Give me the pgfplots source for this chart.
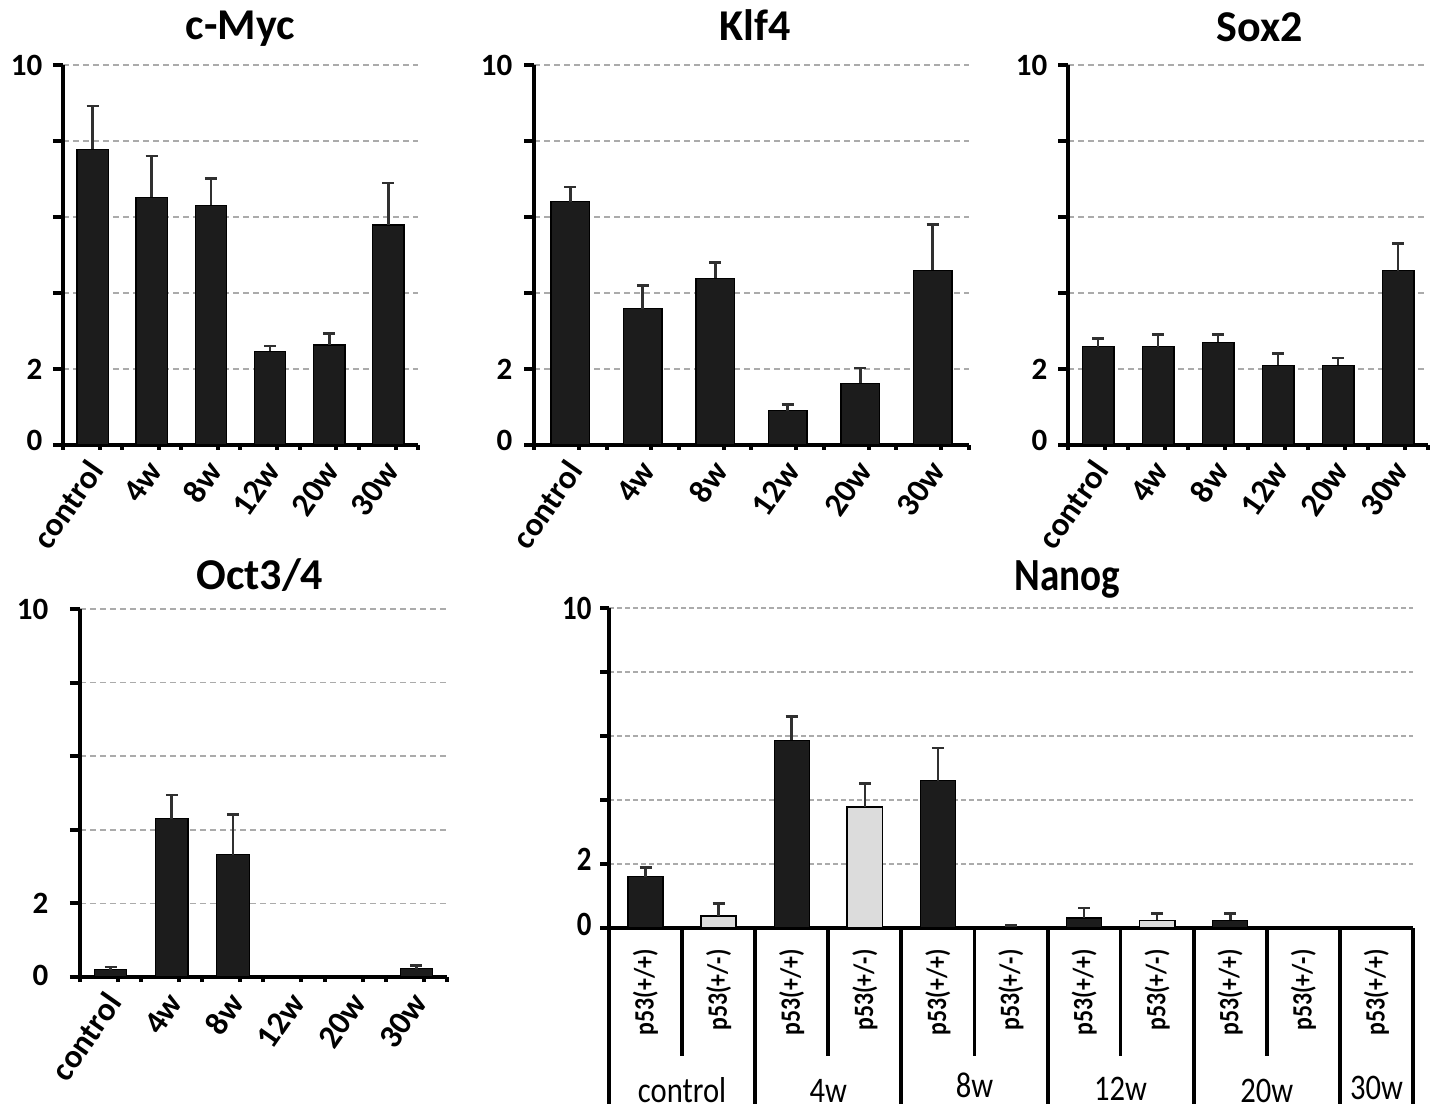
\documentclass[border=0pt]{standalone}
\usepackage{pgfplots}
\pgfplotsset{compat=1.18}
\usepackage{fontspec}
\setmainfont{Carlito}
\newfontfamily\cond[FakeStretch=0.85]{Carlito}
\definecolor{barblk}{HTML}{1C1C1C}
\definecolor{errcol}{HTML}{303030}
\definecolor{gridcol}{HTML}{ABABAB}
\definecolor{lightbar}{HTML}{DCDCDC}

\pgfplotsset{
  panel/.style={
    scale only axis, anchor=south west, clip=false,
    ymin=0, ymax=10, ytick={0,2,4,6,8,10},
    ymajorgrids,
    grid style={gridcol, line width=0.9pt, dash pattern=on 3pt off 2pt},
    axis x line*=bottom, axis y line*=left,
    axis line style={line width=2pt, black, -},
    tick align=outside,
    ytick style={/pgfplots/major tick length=5pt, line width=2pt, black},
    yticklabel style={font=\bfseries\fontsize{15.5}{17}\selectfont, anchor=east},
    title style={font=\bfseries\fontsize{22}{24}\selectfont, anchor=base},
    ybar, bar width=0.53,
    /pgfplots/error bars/error bar style={line width=1.3pt, errcol},
    /pgfplots/error bars/error mark options={rotate=90, errcol, mark size=3pt, line width=1.3pt},
  },
  six/.style={
    xmin=-0.5, xmax=5.5,
    xtick={-0.5,0.5,...,5.5}, xticklabels={},
    xtick style={/pgfplots/major tick length=2.5pt, line width=2pt, black},
    extra x ticks={0.12,1.12,2.12,3.12,4.12,5.12},
    extra x tick labels={control,4w,8w,12w,20w,30w},
    extra x tick style={grid=none, major tick length=0pt},
    xticklabel style={font=\bfseries\fontsize{16.5}{18}\selectfont, rotate=55, anchor=east},
    xticklabel shift=7pt,
    yticklabels={{\raisebox{4.5pt}{0}},2,{},{},{},{\raisebox{-4.5pt}{10}}},
  },
  blackbar/.style={fill=barblk, draw=black, line width=0.6pt, bar shift=0pt},
  greybar/.style={fill=lightbar, draw=black, line width=0.8pt, bar shift=0pt},
}

\begin{document}
\begin{tikzpicture}
\useasboundingbox (0,0) rectangle (720.5pt,557.5pt);

% c-Myc
\begin{axis}[panel, six, at={(31.5pt,335pt)}, width=177.5pt, height=190pt,
  yticklabel style={xshift=-2.5pt},
  title={c-Myc}, title style={at={(0.5,1)}, yshift=6.5pt}]
\addplot[blackbar, error bars/.cd, y dir=plus, y explicit] coordinates {
  (0,7.78) +- (0,1.14)
  (1,6.52) +- (0,1.09)
  (2,6.31) +- (0,0.71)
  (3,2.47) +- (0,0.14)
  (4,2.63) +- (0,0.30)
  (5,5.79) +- (0,1.10)
};
\end{axis}

% Klf4
\begin{axis}[panel, six, at={(267pt,335pt)}, width=217.5pt, height=190pt,
  yticklabel style={xshift=-3pt},
  title={Klf4}, title style={at={(0.508,1)}, yshift=6pt}]
\addplot[blackbar, error bars/.cd, y dir=plus, y explicit] coordinates {
  (0,6.40) +- (0,0.39)
  (1,3.59) +- (0,0.61)
  (2,4.39) +- (0,0.42)
  (3,0.90) +- (0,0.16)
  (4,1.62) +- (0,0.41)
  (5,4.60) +- (0,1.20)
};
\end{axis}

% Sox2
\begin{axis}[panel, six, at={(534pt,335pt)}, width=180pt, height=190pt,
  yticklabel style={xshift=-2.5pt},
  title={Sox2}, title style={at={(0.533,1)}, yshift=5.5pt}]
\addplot[blackbar, error bars/.cd, y dir=plus, y explicit] coordinates {
  (0,2.59) +- (0,0.21)
  (1,2.59) +- (0,0.32)
  (2,2.70) +- (0,0.21)
  (3,2.10) +- (0,0.30)
  (4,2.10) +- (0,0.19)
  (5,4.59) +- (0,0.72)
};
\end{axis}

% Oct3/4
\begin{axis}[panel, six, at={(40pt,69pt)}, width=183.5pt, height=184pt,
  yticklabels={{\raisebox{2pt}{0}},{\raisebox{-1pt}{2}},{},{},{},{\raisebox{-1pt}{10}}},
  yticklabel style={xshift=-8pt},
  title={Oct3/4}, title style={at={(0.49,1)}, yshift=3.5pt}]
\addplot[blackbar, error bars/.cd, y dir=plus, y explicit] coordinates {
  (0,0.20) +- (0,0.07)
  (1,4.30) +- (0,0.65)
  (2,3.32) +- (0,1.10)
  (5,0.23) +- (0,0.08)
};
\end{axis}

% Nanog
\begin{axis}[panel, at={(304.5pt,93.5pt)}, width=402pt, height=160pt,
  xmin=0, xmax=11, xtick=\empty, bar width=0.48,
  ytick style={/pgfplots/major tick length=4.5pt, line width=2pt, black},
  yticklabel style={font=\cond\bfseries\fontsize{17}{18}\selectfont, xshift=-1pt},
  yticklabels={{\raisebox{4pt}{0}},{\raisebox{5pt}{2}},{},{},{},{\raisebox{-2.5pt}{10}}},
  grid style={gridcol, line width=1.2pt, dash pattern=on 2.5pt off 1.5pt},
  title={Nanog}, title style={font=\cond\bfseries\fontsize{23}{25}\selectfont, at={(0.57,1)}, yshift=3pt}]
\addplot[blackbar, error bars/.cd, y dir=plus, y explicit] coordinates {
  (0.5,1.60) +- (0,0.29)
  (2.5,5.86) +- (0,0.75)
  (4.5,4.60) +- (0,1.02)
  (6.5,0.31) +- (0,0.32)
  (8.5,0.24) +- (0,0.21)
};
\addplot[greybar, error bars/.cd, y dir=plus, y explicit] coordinates {
  (1.5,0.38) +- (0,0.38)
  (3.5,3.79) +- (0,0.73)
  (5.5,0.05) +- (0,0.03)
  (7.5,0.24) +- (0,0.21)
};
% separators of the label table
\draw[line width=2pt] (axis cs:0,0) -- (axis cs:0,-5.5);
\draw[line width=2pt] (axis cs:2,0) -- (axis cs:2,-5.5);
\draw[line width=2pt] (axis cs:4,0) -- (axis cs:4,-5.5);
\draw[line width=2pt] (axis cs:6,0) -- (axis cs:6,-5.5);
\draw[line width=2pt] (axis cs:8,0) -- (axis cs:8,-5.5);
\draw[line width=2pt] (axis cs:10,0) -- (axis cs:10,-5.5);
\draw[line width=2pt] (axis cs:11,0) -- (axis cs:11,-5.5);
\draw[line width=1.8pt] (axis cs:1,0) -- (axis cs:1,-4.0);
\draw[line width=1.8pt] (axis cs:3,0) -- (axis cs:3,-4.0);
\draw[line width=1.8pt] (axis cs:5,0) -- (axis cs:5,-4.0);
\draw[line width=1.8pt] (axis cs:7,0) -- (axis cs:7,-4.0);
\draw[line width=1.8pt] (axis cs:9,0) -- (axis cs:9,-4.0);
% cell labels
\tikzset{p53/.style={rotate=90, anchor=east, inner sep=0pt, font=\cond\bfseries\fontsize{14}{15}\selectfont}}
\node[p53] at (axis cs:0.5,-0.66) {p53(+/+)};
\node[p53] at (axis cs:1.5,-0.66) {p53(+/-)};
\node[p53] at (axis cs:2.5,-0.66) {p53(+/+)};
\node[p53] at (axis cs:3.5,-0.66) {p53(+/-)};
\node[p53] at (axis cs:4.5,-0.66) {p53(+/+)};
\node[p53] at (axis cs:5.5,-0.66) {p53(+/-)};
\node[p53] at (axis cs:6.5,-0.66) {p53(+/+)};
\node[p53] at (axis cs:7.5,-0.66) {p53(+/-)};
\node[p53] at (axis cs:8.5,-0.66) {p53(+/+)};
\node[p53] at (axis cs:9.5,-0.66) {p53(+/-)};
\node[p53] at (axis cs:10.5,-0.66) {p53(+/+)};
% group labels
\tikzset{grp/.style={anchor=base, inner sep=0pt, font=\cond\fontsize{18}{19}\selectfont}}
\node[grp] at (axis cs:1,-5.44) {control};
\node[grp] at (axis cs:3,-5.44) {4w};
\node[grp] at (axis cs:5,-5.3) {8w};
\node[grp] at (axis cs:7,-5.4) {12w};
\node[grp] at (axis cs:9,-5.44) {20w};
\node[grp] at (axis cs:10.5,-5.35) {30w};
\end{axis}
\end{tikzpicture}
\end{document}
